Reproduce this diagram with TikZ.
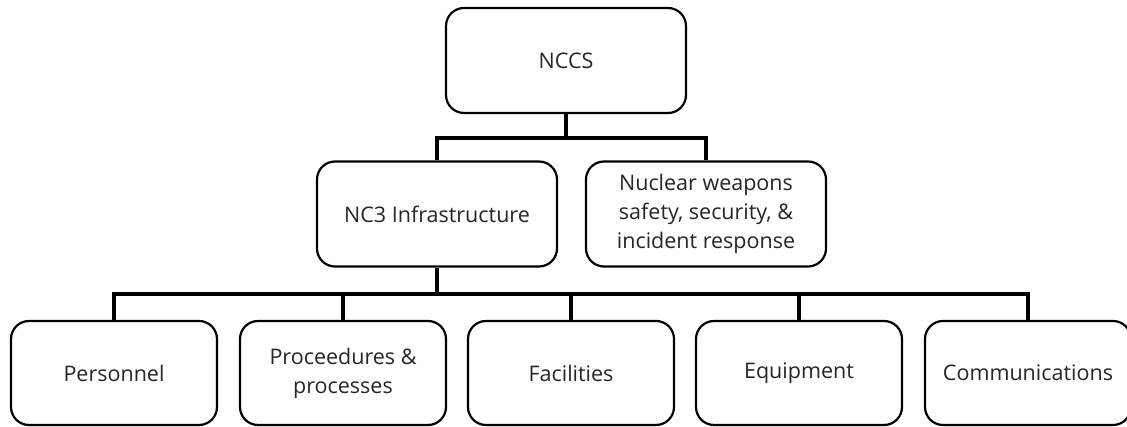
\documentclass[tikz,border=0pt]{standalone}
\usepackage{fontspec}
\setmainfont{Open Sans}
\usepackage{tikz}
\tikzset{
  treenode/.style = {align=center, inner sep=0pt, text centered,
    font=\fontsize{21.5}{29}\selectfont, text=black!85},
  org_g/.style = {treenode, rectangle, rounded corners=18pt, draw=black,
    line width=2.2pt, minimum width=240pt, minimum height=105pt},% organigramme, grande boite
  org_p/.style = {org_g, minimum width=206pt,
    minimum height=104pt},% organigramme, petite boite
  org_l/.style = {draw=black, line width=4pt}% organigramme, lien
}

\begin{document}
\begin{tikzpicture}
\useasboundingbox (0,0) rectangle (1127pt,-427pt);
\node [org_g] (nccs) at (566pt,-60.5pt) {NCCS};
\node [org_g] (nc3) at (437pt,-214pt) {NC3 Infrastructure};
\node [org_g] (nws) at (706pt,-214pt) {Nuclear weapons\\safety, security, \&\\incident response};
\node [org_p] (pers) at (114pt,-373pt) {Personnel};
\node [org_p] (proc) at (343pt,-373pt) {Proceedures \&\\processes};
\node [org_p] (fac) at (571pt,-373pt) {Facilities};
\node [org_p] (equip) at (799pt,-373pt) {Equipment};
\node [org_p] (comm) at (1028pt,-373pt) {Communications};

\draw [org_l] (nccs.south) -- ++(0,-24pt) coordinate (bar1) -| (nc3.north)
    (bar1) -| (nws.north);
\draw [org_l] (nc3.south) -- ++(0,-26pt) coordinate (bar2) -| (pers.north)
    (bar2) -| (proc.north)
    (bar2) -| (fac.north)
    (bar2) -| (equip.north)
    (bar2) -| (comm.north);
\end{tikzpicture}
\end{document}
